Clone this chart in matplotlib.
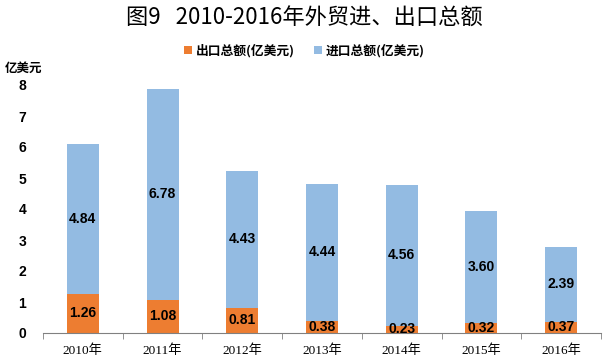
import numpy as np
import matplotlib.pyplot as plt

plt.rcParams['font.family'] = ['Noto Sans CJK SC', 'DejaVu Sans']

# data
years = ['2010年', '2011年', '2012年', '2013年', '2014年', '2015年', '2016年']
export_vals = [1.26, 1.08, 0.81, 0.38, 0.23, 0.32, 0.37]
import_vals = [4.84, 6.78, 4.43, 4.44, 4.56, 3.60, 2.39]
yticks = [0, 1, 2, 3, 4, 5, 6, 7, 8]

orange = '#ED7D31'
blue = '#93BBE2'

fig = plt.figure(figsize=(6.09, 3.59), dpi=100)
ax = fig.add_axes([43/609, 26/359, 558/609, 248/359])

x = np.arange(len(years))
w = 0.4
ax.bar(x, export_vals, w, color=orange, label='出口总额(亿美元)')
ax.bar(x, import_vals, w, bottom=export_vals, color=blue, label='进口总额(亿美元)')

#data labels in the middle of each segment
for i in range(len(years)):
    ax.text(x[i], export_vals[i]/2, f"{export_vals[i]:.2f}", ha='center', va='center',
            fontsize=10, fontweight='bold', family='Liberation Sans')
    ax.text(x[i], export_vals[i] + import_vals[i]/2, f"{import_vals[i]:.2f}", ha='center',
            va='center', fontsize=10, fontweight='bold', family='Liberation Sans')

ax.set_xlim(-0.5, len(years) - 0.5)
ax.set_ylim(0, 8)
ax.set_yticks(yticks)
ax.set_yticklabels([str(t) for t in yticks], fontsize=10, fontweight='bold', family='Liberation Sans')
ax.set_xticks(x)
ax.set_xticklabels(years, fontsize=9.5, family=['Liberation Serif', 'Noto Sans CJK SC'])
ax.set_xticks(np.arange(-0.5, len(years)), minor=True)
ax.tick_params(axis='x', which='major', length=0, pad=8)
ax.tick_params(axis='x', which='minor', length=4, color='#808080', direction='out')
ax.tick_params(axis='y', length=0, pad=12)

for s in ['top', 'right', 'left']:
    ax.spines[s].set_visible(False)
ax.spines['bottom'].set_color('#808080')

fig.text(24/609, 1 - 68/359, '亿美元', ha='center', va='center', fontsize=9, fontweight='bold')
fig.text(0.5, 1 - 18/359, '图9   2010-2016年外贸进、出口总额', ha='center', va='center', fontsize=16)

leg = fig.legend(loc='center', bbox_to_anchor=(0.5, 1 - 51/359), ncol=2, frameon=False,
                 prop={'size': 9.2, 'weight': 'bold', 'family': 'Noto Sans CJK SC'},
                 handlelength=0.6, handleheight=0.6, handletextpad=0.3, columnspacing=1.5)

fig.savefig('out.png', dpi=100)
